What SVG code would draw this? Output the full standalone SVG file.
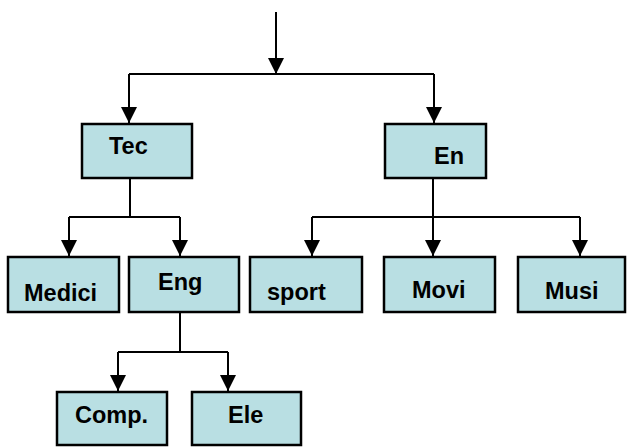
<svg xmlns="http://www.w3.org/2000/svg" width="627" height="447" viewBox="0 0 627 447">
<style>
.box{fill:#B9DFE3;stroke:#000;stroke-width:2.5}
.lbl{font-family:"Liberation Sans",Arial,sans-serif;font-weight:bold;font-size:23.5px;fill:#000}
.ln{fill:none;stroke:#000;stroke-width:2}
</style>
<defs>
<marker id="ah" markerUnits="userSpaceOnUse" markerWidth="18" markerHeight="18" viewBox="0 0 18 18" refX="16" refY="9" orient="auto">
<path d="M0,1 L16,9 L0,17 Z" fill="#000"/>
</marker>
</defs>
<rect width="627" height="447" fill="#fff"/>
<g id="connectors">
<line class="ln" x1="276" y1="12" x2="276" y2="74" marker-end="url(#ah)"/>
<line class="ln" x1="129" y1="74" x2="434" y2="74"/>
<line class="ln" x1="129" y1="74" x2="129" y2="123" marker-end="url(#ah)"/>
<line class="ln" x1="434" y1="74" x2="434" y2="123" marker-end="url(#ah)"/>
<line class="ln" x1="130" y1="178" x2="130" y2="217"/>
<line class="ln" x1="69" y1="217" x2="180" y2="217"/>
<line class="ln" x1="69" y1="217" x2="69" y2="256" marker-end="url(#ah)"/>
<line class="ln" x1="180" y1="217" x2="180" y2="256" marker-end="url(#ah)"/>
<line class="ln" x1="433" y1="178" x2="433" y2="217"/>
<line class="ln" x1="312" y1="217" x2="580" y2="217"/>
<line class="ln" x1="312" y1="217" x2="312" y2="256" marker-end="url(#ah)"/>
<line class="ln" x1="433" y1="217" x2="433" y2="256" marker-end="url(#ah)"/>
<line class="ln" x1="580" y1="217" x2="580" y2="256" marker-end="url(#ah)"/>
<line class="ln" x1="180" y1="312" x2="180" y2="352"/>
<line class="ln" x1="118" y1="352" x2="228" y2="352"/>
<line class="ln" x1="118" y1="352" x2="118" y2="391" marker-end="url(#ah)"/>
<line class="ln" x1="228" y1="352" x2="228" y2="391" marker-end="url(#ah)"/>
</g>
<g id="tec"><rect class="box" x="82" y="124" width="110" height="54"/><text class="lbl" x="109" y="154">Tec</text></g>
<g id="en"><rect class="box" x="385" y="124" width="101" height="54"/><text class="lbl" x="434" y="164">En</text></g>
<g id="medici"><rect class="box" x="8" y="257" width="111" height="55"/><text class="lbl" x="24" y="301">Medici</text></g>
<g id="eng"><rect class="box" x="129" y="257" width="110" height="55"/><text class="lbl" x="158" y="290">Eng</text></g>
<g id="sport"><rect class="box" x="250" y="257" width="112" height="55"/><text class="lbl" x="267" y="300">sport</text></g>
<g id="movi"><rect class="box" x="384" y="257" width="111" height="55"/><text class="lbl" x="412" y="298">Movi</text></g>
<g id="musi"><rect class="box" x="518" y="257" width="107" height="55"/><text class="lbl" x="545" y="299">Musi</text></g>
<g id="comp"><rect class="box" x="57" y="392" width="110" height="53"/><text class="lbl" x="75" y="423">Comp.</text></g>
<g id="ele"><rect class="box" x="192" y="392" width="109" height="53"/><text class="lbl" x="228" y="423">Ele</text></g>
</svg>
